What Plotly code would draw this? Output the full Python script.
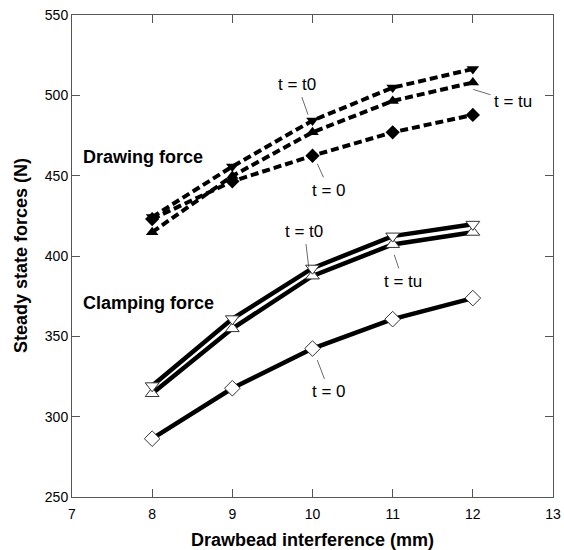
import plotly.graph_objects as go

x_mm = [8, 9, 10, 11, 12]

draw_t0 = [424.2, 455.7, 484.3, 504.8, 516.4]
draw_tu = [414.8, 449.8, 477.0, 496.5, 508.0]
draw_0 = [423.0, 446.5, 462.4, 477.0, 487.8]

clamp_t0 = [319.2, 360.9, 392.4, 412.4, 419.7]
clamp_tu = [314.4, 354.8, 387.6, 407.2, 414.8]
clamp_0 = [286.3, 317.7, 342.4, 360.7, 373.8]

x_ticks = [7, 8, 9, 10, 11, 12, 13]
y_ticks = [250, 300, 350, 400, 450, 500, 550]

FONT = "Liberation Sans, Arial, sans-serif"

fig = go.Figure()

def add_series(y, symbol, dashed, filled):
    fig.add_trace(go.Scatter(
        x=x_mm, y=y, mode="lines+markers",
        line=dict(color="black", width=4 if dashed else 4.5,
                  dash="8px,4px" if dashed else "solid"),
        marker=dict(symbol=symbol, size=11 if filled else 12,
                    color="black" if filled else "white",
                    line=dict(color="black" if filled else "#333333",
                              width=0 if filled else 1)),
        showlegend=False, hoverinfo="skip"))

add_series(draw_0, "diamond", True, True)
add_series(draw_tu, "triangle-up", True, True)
add_series(draw_t0, "triangle-down", True, True)
add_series(clamp_0, "diamond", False, False)
add_series(clamp_tu, "triangle-up", False, False)
add_series(clamp_t0, "triangle-down", False, False)

labels = [
    ("t = t0", 9.81, 507.0, 9.944, 488.0),
    ("t = tu", 12.50, 496.1, 12.005, 503.7),
    ("t = 0", 10.21, 441.0, 10.06, 457.4),
    ("t = t0", 9.90, 415.5, 9.953, 393.0),
    ("t = tu", 11.13, 384.3, 11.02, 400.7),
    ("t = 0", 10.21, 315.5, 10.06, 335.2),
]
for txt, tx, ty, px, py in labels:
    fig.add_annotation(x=px, y=py, ax=tx, ay=ty, axref="x", ayref="y",
                       xref="x", yref="y", text=txt, showarrow=True,
                       arrowhead=0, arrowwidth=0.8, arrowcolor="#444444",
                       standoff=0, startstandoff=2,
                       font=dict(family=FONT, size=17, color="black"))

fig.add_annotation(x=7.11, y=461.4, xref="x", yref="y", text="<b>Drawing force</b>",
                   showarrow=False, xanchor="left",
                   font=dict(family=FONT, size=18, color="black"))
fig.add_annotation(x=7.11, y=370.7, xref="x", yref="y", text="<b>Clamping force</b>",
                   showarrow=False, xanchor="left",
                   font=dict(family=FONT, size=18, color="black"))

# axis titles
fig.add_annotation(x=0.5, y=0, xref="paper", yref="paper", yanchor="middle",
                   yshift=-43, showarrow=False,
                   text="<b>Drawbead interference (mm)</b>",
                   font=dict(family=FONT, size=18, color="black"))
fig.add_annotation(x=0, y=0.5, xref="paper", yref="paper", xanchor="center",
                   yanchor="middle", xshift=-51, showarrow=False, textangle=-90,
                   text="<b>Steady state forces (N)</b>",
                   font=dict(family=FONT, size=18, color="black"))

axis_common = dict(showgrid=False, zeroline=False, showline=True,
                   linecolor="#555555", linewidth=1, mirror="ticks",
                   ticks="inside", ticklen=8, tickcolor="#555555",
                   automargin=False, ticklabeloverflow="allow",
                   tickfont=dict(family=FONT, size=14, color="black"))

fig.update_xaxes(range=[7, 13], tickvals=x_ticks, ticklabelstandoff=4,
                 **axis_common)
fig.update_yaxes(range=[250, 550], tickvals=y_ticks, **axis_common)

fig.update_layout(width=564, height=550, paper_bgcolor="white",
                  plot_bgcolor="white",
                  margin=dict(l=72, r=11, t=15, b=53))

fig.write_html("out.html", config={"displayModeBar": False},
               post_script="document.body.style.margin='0';"
                           "document.body.style.overflow='hidden';")
